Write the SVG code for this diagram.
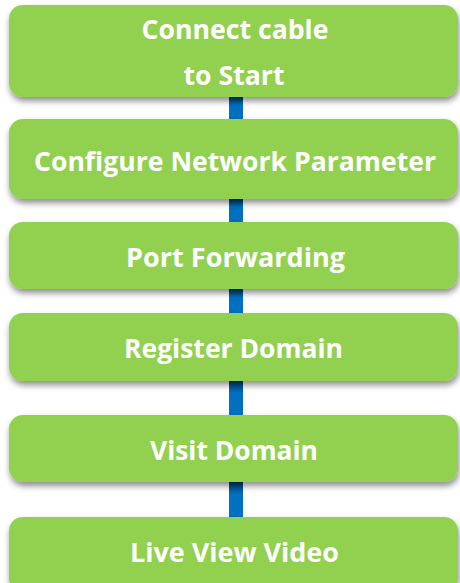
<svg xmlns="http://www.w3.org/2000/svg" width="460" height="583" viewBox="0 0 460 583">
<defs>
<filter id="sh" x="-5%" y="-20%" width="110%" height="150%">
<feDropShadow dx="1" dy="4" stdDeviation="3" flood-color="#000" flood-opacity="0.45"/>
</filter>
<linearGradient id="cg" x1="0" y1="0" x2="0" y2="1">
<stop offset="0" stop-color="#00406e"/>
<stop offset="0.35" stop-color="#0070c0"/>
<stop offset="1" stop-color="#0070c0"/>
</linearGradient>
<style>
.box{fill:#92d050;filter:url(#sh)}
.lbl{font-family:"Open Sans","Liberation Sans",sans-serif;font-weight:700;font-size:27px;fill:#fff;text-anchor:middle}
.con{fill:url(#cg)}
</style>
</defs>
<rect width="460" height="583" fill="#fff"/>
<g id="connectors">
<rect class="con" x="229" y="97" width="14" height="22"/>
<rect class="con" x="229" y="199" width="14" height="23"/>
<rect class="con" x="229" y="289" width="14" height="24"/>
<rect class="con" x="229" y="381" width="14" height="34"/>
<rect class="con" x="229" y="482" width="14" height="35"/>
</g>
<g id="n1">
<rect class="box" x="9" y="5" width="449" height="92" rx="14"/>
<text class="lbl" x="235" y="39" textLength="187" lengthAdjust="spacingAndGlyphs">Connect cable</text>
<text class="lbl" x="234" y="85" textLength="101" lengthAdjust="spacingAndGlyphs">to Start</text>
</g>
<g id="n2">
<rect class="box" x="9" y="119" width="449" height="80" rx="14"/>
<text class="lbl" x="235" y="171" textLength="402" lengthAdjust="spacingAndGlyphs">Configure Network Parameter</text>
</g>
<g id="n3">
<rect class="box" x="9" y="222" width="449" height="67" rx="14"/>
<text class="lbl" x="235.5" y="267" textLength="219" lengthAdjust="spacingAndGlyphs">Port Forwarding</text>
</g>
<g id="n4">
<rect class="box" x="9" y="313" width="449" height="68" rx="14"/>
<text class="lbl" x="233.5" y="358" textLength="219" lengthAdjust="spacingAndGlyphs">Register Domain</text>
</g>
<g id="n5">
<rect class="box" x="9" y="415" width="449" height="67" rx="14"/>
<text class="lbl" x="234" y="460" textLength="168" lengthAdjust="spacingAndGlyphs">Visit Domain</text>
</g>
<g id="n6">
<rect class="box" x="9" y="517" width="449" height="75" rx="14"/>
<text class="lbl" x="234.5" y="562" textLength="209" lengthAdjust="spacingAndGlyphs">Live View Video</text>
</g>
</svg>
